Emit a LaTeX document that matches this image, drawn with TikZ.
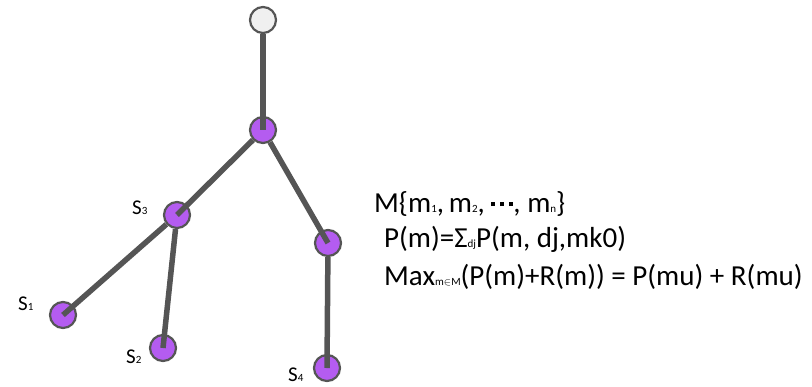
\documentclass[tikz,border=0pt]{standalone}
\usepackage{fontspec}
\setmainfont{Carlito}
\usepackage{tikz}
\usetikzlibrary{positioning}
\definecolor{nodepurple}{HTML}{B45CF0}
\definecolor{edgegray}{HTML}{555555}
\definecolor{rootfill}{HTML}{F0F0F0}
\newcommand{\tinysub}[1]{{\fontsize{11}{11}\selectfont #1}}
\newcommand{\sqdot}{\raisebox{6pt}{\rule{4pt}{4pt}}}

\begin{document}
\begin{tikzpicture}[x=1pt, y=-1pt,
  every node/.style={font=\fontsize{21}{24}\selectfont},
  vert/.style={circle,draw=edgegray,line width=2.2pt,fill=nodepurple,minimum size=26pt,inner sep=0pt},
  edge/.style={edgegray,line width=5.5pt}]
  \useasboundingbox (0,0) rectangle (812,386);
  % tree
  \node[vert,fill=rootfill] (root) at (263,20) {};
  \node[vert] (hub) at (263,130) {};
  \node[vert] (sthree) at (177,215) {};
  \node[vert] (branch) at (328,243) {};
  \node[vert] (sone) at (63,315) {};
  \node[vert] (stwo) at (163,348) {};
  \node[vert] (sfour) at (327,368) {};
  \draw[edge] (root) -- (hub.center);
  \draw[edge] (hub) -- (sthree.center);
  \draw[edge] (hub) -- (branch.center);
  \draw[edge] (sthree) -- (sone.center);
  \draw[edge] (sthree) -- (stwo.center);
  \draw[edge] (branch) -- (sfour.center);
  % leaf labels
  \node[anchor=base west,inner sep=0pt] (lthree) at (132,214) {S\tinysub{3}};
  \node[anchor=base west,inner sep=0pt] (lone) at (18,310) {S\tinysub{1}};
  \node[anchor=base west,inner sep=0pt] (ltwo) at (126,363) {S\tinysub{2}};
  \node[anchor=base west,inner sep=0pt] (lfour) at (288,381) {S\tinysub{4}};
  % formulas
  \node[anchor=base west,inner sep=0pt,font=\fontsize{29}{32}\selectfont] (setm) at (374,212)
    {M\{m\tinysub{1},\,m\tinysub{2}, \sqdot\hspace{5pt}\sqdot\hspace{5pt}\sqdot, m\tinysub{n}\}};
  \node[anchor=base west,inner sep=0pt,font=\fontsize{29}{32}\selectfont] (prob) at (384,247)
    {P(m)=Σ\tinysub{dj}P(m, dj,mk0)};
  \node[anchor=base west,inner sep=0pt,font=\fontsize{29}{32}\selectfont] (maxline) at (384,285)
    {Max\tinysub{m$\in$M}(P(m)+R(m)) = P(mu) + R(mu)};
\end{tikzpicture}
\end{document}
